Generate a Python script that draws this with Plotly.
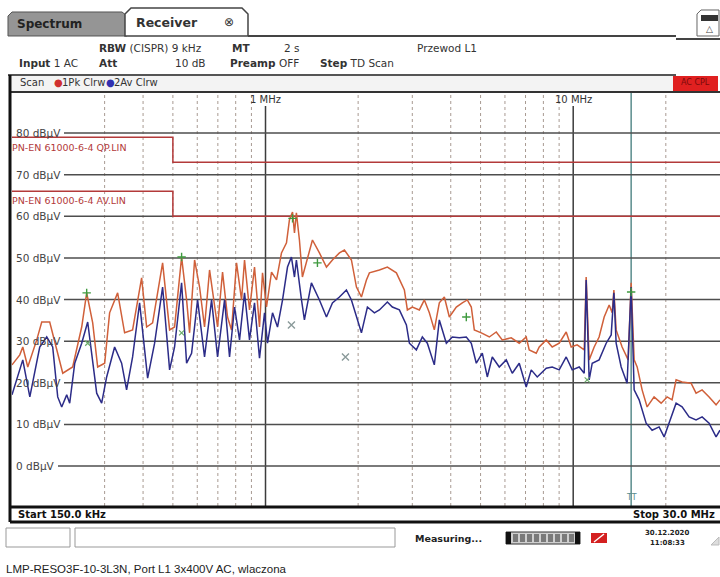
import math
import plotly.graph_objects as go

# ------------------------------------------------------------------ data
pk_freq_mhz = [0.150, 0.159, 0.1626, 0.1688, 0.1805, 0.1874, 0.1989, 0.2096, 0.2193, 0.2362,
               0.2527, 0.2623, 0.2744, 0.2848, 0.3001, 0.3114, 0.3307, 0.3484, 0.3699, 0.3957,
               0.4108, 0.4296, 0.463, 0.4879, 0.5064, 0.5337, 0.554, 0.5666, 0.5882, 0.6105,
               0.6336, 0.6579, 0.683, 0.6985, 0.7251, 0.7526, 0.7755, 0.8051, 0.8358, 0.8548,
               0.8872, 0.9211, 0.9561, 0.9779, 1.0075, 1.046, 1.086, 1.127, 1.170, 1.196,
               1.224, 1.242, 1.260, 1.289, 1.318, 1.369, 1.421, 1.497, 1.578, 1.650,
               1.739, 1.805, 1.902, 1.975, 2.050, 2.128, 2.176, 2.345, 2.489, 2.663,
               2.827, 2.891, 3.001, 3.162, 3.283, 3.408, 3.537, 3.672, 3.813, 3.958,
               4.170, 4.361, 4.527, 4.665, 4.771, 5.028, 5.338, 5.623, 5.881, 6.291,
               6.678, 7.036, 7.196, 7.584, 7.756, 8.173, 8.548, 9.006, 9.490, 9.852,
               10.30, 10.86, 11.02, 11.27, 11.70, 12.14, 12.61, 13.09, 13.39, 13.56,
               13.79, 14.42, 15.09, 15.43, 15.78, 16.14, 16.75, 17.39, 18.32, 19.31,
               20.20, 20.96, 21.60, 22.59, 24.16, 25.08, 26.24, 27.65, 29.13, 30.0]
pk_level_dbuv = [24.3, 26.7, 28.6, 23.8, 30.3, 34.6, 34.6, 27.9, 22.3, 23.8,
                 33.4, 41.6, 34.4, 23.8, 24.7, 36.8, 41.6, 32.0, 32.7, 45.2,
                 33.4, 34.4, 48.8, 32.7, 33.4, 50.2, 39.9, 32.0, 49.5, 43.0,
                 33.4, 47.1, 39.2, 33.4, 46.6, 35.8, 32.7, 48.8, 39.9, 49.5,
                 37.5, 47.8, 33.4, 46.4, 38.2, 46.6, 44.7, 51.2, 53.6, 59.1,
                 61.0, 56.0, 60.8, 54.3, 45.4, 50.2, 54.3, 51.2, 47.8, 49.5,
                 51.2, 51.9, 49.5, 43.0, 40.6, 44.7, 46.4, 47.1, 47.8, 46.4,
                 42.3, 37.5, 38.2, 37.5, 39.9, 36.8, 32.7, 39.2, 40.6, 35.8,
                 38.2, 39.2, 39.9, 38.2, 32.7, 32.0, 31.0, 32.2, 30.3, 30.8,
                 29.5, 31.0, 27.9, 27.1, 28.6, 30.3, 28.6, 29.5, 32.2, 28.6,
                 29.1, 27.9, 45.4, 25.5, 28.6, 31.0, 35.8, 38.7, 36.8, 42.3,
                 32.7, 28.6, 25.5, 44.0, 25.5, 23.8, 18.3, 14.2, 16.6, 15.1,
                 16.6, 15.9, 20.7, 20.2, 19.9, 17.5, 18.3, 16.6, 14.7, 15.9]

av_freq_mhz = [0.150, 0.1626, 0.1714, 0.1846, 0.1945, 0.2034, 0.2112, 0.2176, 0.2259, 0.2310,
               0.2399, 0.2527, 0.2643, 0.2827, 0.2934, 0.3046, 0.3233, 0.3407, 0.3536, 0.3699,
               0.3898, 0.4139, 0.4361, 0.4630, 0.4879, 0.5064, 0.5337, 0.5540, 0.5751, 0.6015,
               0.6336, 0.6679, 0.6985, 0.7360, 0.7640, 0.7932, 0.8234, 0.8548, 0.8872, 0.9211,
               0.9561, 0.9926, 1.015, 1.054, 1.094, 1.136, 1.179, 1.214, 1.242, 1.260,
               1.309, 1.338, 1.410, 1.497, 1.578, 1.650, 1.739, 1.832, 1.902, 1.975,
               2.050, 2.144, 2.259, 2.345, 2.489, 2.584, 2.723, 2.870, 2.935, 3.092,
               3.234, 3.357, 3.537, 3.672, 3.870, 4.047, 4.264, 4.494, 4.665, 4.843,
               5.065, 5.258, 5.458, 5.751, 6.060, 6.338, 6.678, 7.036, 7.305, 7.641,
               8.173, 8.548, 9.006, 9.490, 9.926, 10.46, 10.86, 11.02, 11.27, 11.53,
               12.14, 12.80, 13.29, 13.56, 13.79, 14.32, 14.97, 15.43, 15.78, 16.38,
               17.26, 18.05, 19.02, 19.75, 20.50, 20.96, 21.60, 22.59, 23.81, 25.08,
               26.24, 27.65, 29.13, 30.0]
av_level_dbuv = [17.1, 25.5, 16.6, 28.6, 31.0, 28.6, 16.6, 14.2, 17.1, 15.1,
                 24.7, 29.5, 34.6, 17.5, 15.1, 21.4, 28.6, 24.7, 18.3, 26.2,
                 39.2, 21.1, 29.5, 43.0, 23.1, 28.6, 44.0, 24.7, 27.1, 39.9,
                 26.2, 39.9, 26.2, 39.9, 26.2, 38.2, 30.3, 41.6, 30.3, 39.2,
                 25.9, 36.8, 29.5, 36.8, 33.4, 39.9, 47.8, 50.2, 45.4, 49.5,
                 39.9, 35.1, 44.0, 39.9, 35.8, 39.2, 40.6, 42.3, 39.9, 35.8,
                 32.0, 38.2, 36.8, 37.5, 39.4, 38.2, 37.5, 33.9, 29.5, 27.9,
                 31.0, 29.5, 24.3, 35.1, 29.5, 31.0, 30.8, 31.0, 29.5, 24.7,
                 27.1, 21.4, 26.2, 23.8, 25.5, 22.3, 24.7, 19.0, 23.1, 21.4,
                 23.5, 23.8, 23.1, 26.2, 23.1, 23.8, 22.3, 44.7, 20.7, 24.7,
                 25.5, 29.5, 31.5, 41.6, 29.5, 23.8, 19.9, 43.0, 18.3, 15.9,
                 10.3, 8.6, 9.4, 7.0, 10.3, 12.7, 15.1, 14.2, 11.8, 11.1,
                 11.8, 10.3, 7.0, 8.6]

qp_limit_freq = [0.15, 0.5, 30.0]
qp_limit_level = [79, 73, 73]
av_limit_freq = [0.15, 0.5, 30.0]
av_limit_level = [66, 60, 60]

level_ticks = [80, 70, 60, 50, 40, 30, 20, 10, 0]
level_tick_labels = ["80 dB\u00b5V", "70 dB\u00b5V", "60 dB\u00b5V", "50 dB\u00b5V", "40 dB\u00b5V",
                     "30 dB\u00b5V", "20 dB\u00b5V", "10 dB\u00b5V", "0 dB\u00b5V"]
minor_freq_grid = [0.3, 0.4, 0.5, 0.6, 0.7, 0.8, 0.9, 2, 3, 4, 5, 6, 7, 8, 9, 20]
decade_freq = [1, 10]
decade_labels = ["1 MHz", "10 MHz"]

plus_marker_freq = [0.2623, 0.5337, 1.224, 1.475, 4.494, 15.43]
plus_marker_level = [41.6, 50.2, 59.5, 48.8, 35.8, 41.8]
cross_marker_freq = [1.214, 1.819]
cross_marker_level = [33.9, 26.2]
green_cross_freq = [0.2643, 0.5337, 11.1]
green_cross_level = [29.5, 32.0, 20.7]
marker_line_freq = 15.43

# ------------------------------------------------------------------ geometry helpers
L, T, W, H = 12, 92, 708, 414
FIG_W, FIG_H = 720, 577


def xp(x):
    return (x - L) / W


def yp(y):
    return (T + H - y) / H


PK_COLOR = "#d0603a"
AV_COLOR = "#2c2c88"
LIMIT_COLOR = "#b33a3a"
GRID_COLOR = "#4e4e4e"
DOT_COLOR = "#a89a92"
FONT = "DejaVu Sans"

fig = go.Figure()

# limit lines
fig.add_trace(go.Scatter(x=qp_limit_freq, y=qp_limit_level, mode="lines",
                         line=dict(color=LIMIT_COLOR, width=1.5, shape="hv"), hoverinfo="skip"))
fig.add_trace(go.Scatter(x=av_limit_freq, y=av_limit_level, mode="lines",
                         line=dict(color=LIMIT_COLOR, width=1.5, shape="hv"), hoverinfo="skip"))
# traces
fig.add_trace(go.Scatter(x=pk_freq_mhz, y=pk_level_dbuv, mode="lines", name="1Pk Clrw",
                         line=dict(color=PK_COLOR, width=1.5)))
fig.add_trace(go.Scatter(x=av_freq_mhz, y=av_level_dbuv, mode="lines", name="2Av Clrw",
                         line=dict(color=AV_COLOR, width=1.5)))
# markers
fig.add_trace(go.Scatter(x=plus_marker_freq, y=plus_marker_level, mode="markers",
                         marker=dict(symbol="cross-thin", size=6, line=dict(color="#3f9a3f", width=1.4))))
fig.add_trace(go.Scatter(x=cross_marker_freq, y=cross_marker_level, mode="markers",
                         marker=dict(symbol="x-thin", size=7, line=dict(color="#8a9a9a", width=1.4))))
fig.add_trace(go.Scatter(x=green_cross_freq, y=green_cross_level, mode="markers",
                         marker=dict(symbol="x-thin", size=5, line=dict(color="#6aaa6a", width=1.2))))

shapes = []
annotations = []

# vertical dotted grid
for f in minor_freq_grid:
    shapes.append(dict(type="line", xref="x", yref="paper", x0=f, x1=f, y0=0, y1=1,
                       line=dict(color=DOT_COLOR, width=1, dash="dot"), layer="below"))
# decade lines
for f, lab in zip(decade_freq, decade_labels):
    shapes.append(dict(type="line", xref="x", yref="paper", x0=f, x1=f, y0=0, y1=yp(106),
                       line=dict(color="#3c3c3c", width=1.5), layer="below"))
    annotations.append(dict(x=math.log10(f), xref="x", y=yp(100), yref="paper", text=lab,
                            showarrow=False, xanchor="center", yanchor="middle",
                            font=dict(family=FONT, size=10, color="#333")))
# marker line
shapes.append(dict(type="line", xref="x", yref="paper", x0=marker_line_freq, x1=marker_line_freq,
                   y0=0, y1=1, line=dict(color="#5a8c8c", width=1.5), layer="below"))
annotations.append(dict(x=math.log10(marker_line_freq), xref="x", y=yp(497), yref="paper", text="TT",
                        showarrow=False, xanchor="center", yanchor="middle",
                        font=dict(family=FONT, size=8, color="#5a8c8c")))

# horizontal grid with labels
for lv, lab in zip(level_ticks, level_tick_labels):
    start = 64 if lv != 0 else 58
    shapes.append(dict(type="line", xref="paper", yref="y", x0=xp(start), x1=1, y0=lv, y1=lv,
                       line=dict(color=GRID_COLOR, width=1.5), layer="below"))
    annotations.append(dict(x=xp(14), xref="paper", y=lv, yref="y", text=lab, showarrow=False,
                            xanchor="left", yanchor="middle",
                            font=dict(family=FONT, size=10.5, color="#444")))

# limit labels
annotations.append(dict(x=xp(10), xref="paper", y=yp(147), yref="paper",
                        text="PN-EN 61000-6-4 QP.LIN", showarrow=False, xanchor="left", yanchor="middle",
                        font=dict(family=FONT, size=9.5, color=LIMIT_COLOR)))
annotations.append(dict(x=xp(10), xref="paper", y=yp(200), yref="paper",
                        text="PN-EN 61000-6-4 AV.LIN", showarrow=False, xanchor="left", yanchor="middle",
                        font=dict(family=FONT, size=9.5, color=LIMIT_COLOR)))


def rect(x0, y0, x1, y1, fill=None, line_color=None, lw=1):
    d = dict(type="rect", xref="paper", yref="paper", x0=xp(x0), x1=xp(x1), y0=yp(y0), y1=yp(y1),
             line=dict(width=lw if line_color else 0, color=line_color or "rgba(0,0,0,0)"))
    if fill:
        d["fillcolor"] = fill
    shapes.append(d)


def hline(x0, x1, y, color, lw):
    shapes.append(dict(type="line", xref="paper", yref="paper", x0=xp(x0), x1=xp(x1), y0=yp(y), y1=yp(y),
                       line=dict(color=color, width=lw)))


def vline(x, y0, y1, color, lw):
    shapes.append(dict(type="line", xref="paper", yref="paper", x0=xp(x), x1=xp(x), y0=yp(y0), y1=yp(y1),
                       line=dict(color=color, width=lw)))


def path(points, fill=None, line_color="#444", lw=1, close=True):
    s = "M " + " L ".join("%.5f,%.5f" % (xp(x), yp(y)) for x, y in points)
    if close:
        s += " Z"
    d = dict(type="path", xref="paper", yref="paper", path=s,
             line=dict(color=line_color, width=lw))
    if fill:
        d["fillcolor"] = fill
    shapes.append(d)


def text(x, y, t, size=10, color="#333", anchor="left", bold=False, family=FONT):
    annotations.append(dict(x=xp(x), xref="paper", y=yp(y), yref="paper",
                            text=("<b>%s</b>" % t) if bold else t, showarrow=False,
                            xanchor=anchor, yanchor="middle",
                            font=dict(family=family, size=size, color=color)))


# tabs
path([(8, 36), (8, 16), (12, 12), (122, 12), (127, 16), (127, 36)], fill="#959595", line_color="#555", lw=1)
path([(125, 36), (125, 14), (131, 8), (242, 8), (248, 14), (248, 36)], fill="#ffffff", line_color="#444", lw=1.5)
text(15, 24, "Spectrum", size=12, color="#222", bold=True)
text(134, 23, "Receiver", size=12.5, color="#333", bold=True)
text(229, 22, "\u2297", size=12, color="#333", anchor="center")
hline(248, 676, 36, "#444", 2)
hline(676, 720, 39, "#444", 2)
# top-right icon
path([(697, 36), (697, 14), (701, 10), (719, 10), (719, 36)], fill="#ffffff", line_color="#666", lw=1)
rect(701, 15, 718, 21, fill="#333")
text(709, 29, "\u25b3", size=9, color="#444", anchor="center")

# header lines
text(97, 48, "<b>RBW</b> (CISPR) 9 kHz", size=10.5, color="#333")
text(230, 48, "<b>MT</b>", size=10.5, color="#333")
text(302, 48, "2 s", size=10.5, color="#333", anchor="right")
text(415, 48, "Przewod L1", size=10.5, color="#333")
text(17, 63, "<b>Input</b> 1 AC", size=10.5, color="#333")
text(97, 63, "<b>Att</b>", size=10.5, color="#333")
text(208, 63, "10 dB", size=10.5, color="#333", anchor="right")
text(228, 63, "<b>Preamp</b> OFF", size=10.5, color="#333")
text(318, 63, "<b>Step</b> TD Scan", size=10.5, color="#333")

# scan bar
hline(8, 676, 75, "#555", 2)
rect(12, 76, 673, 91, fill="#f3f3f3")
text(18, 83, "Scan", size=10, color="#333")
text(52, 83, "\u25cf", size=10, color="#d03030")
text(60, 83, "1Pk Clrw", size=10, color="#333")
text(104, 83, "\u25cf", size=10, color="#3030b0")
text(112, 83, "2Av Clrw", size=10, color="#333")
rect(673, 76, 718, 91, fill="#e02020")
text(695, 83, "AC CPL", size=8, color="#7a0a0a", anchor="center")

# frame
hline(10, 720, 92, "#333", 2)
vline(10, 75, 522, "#111", 3)
hline(10, 720, 507, "#111", 3)
hline(10, 720, 522, "#111", 3)
text(16, 514, "Start 150.0 kHz", size=10, color="#111", bold=True)
text(717, 514, "Stop 30.0 MHz", size=10, color="#111", bold=True, anchor="right")

# status bar
rect(6, 528, 70, 547, fill="#ffffff", line_color="#999", lw=1)
rect(75, 528, 395, 547, fill="#ffffff", line_color="#999", lw=1)
text(413, 538, "Measuring...", size=9.5, color="#222", bold=True)
rect(506, 532, 580, 544, fill="#cfcfcf", line_color="#333", lw=1)
rect(506, 532, 511, 544, fill="#111")
rect(575, 532, 580, 544, fill="#111")
for k in range(9):
    rect(513 + k * 7, 534, 518 + k * 7, 542, fill="#7a7a7a")
rect(591, 533, 607, 543, fill="#d42020")
shapes.append(dict(type="line", xref="paper", yref="paper", x0=xp(594), x1=xp(604), y0=yp(542), y1=yp(534),
                   line=dict(color="#ffffff", width=1.5)))
text(667, 533, "30.12.2020", size=7, color="#222", bold=True, anchor="center")
text(667, 543, "11:08:33", size=7, color="#222", bold=True, anchor="center")
path([(711, 545), (719, 537), (719, 545)], fill="#dddddd", line_color="#bbb", lw=1)

# caption
text(4, 569, "LMP-RESO3F-10-3L3N, Port L1 3x400V AC, wlaczona", size=11.5, color="#222",
     family="Liberation Sans Narrow, Liberation Sans, Arial")

fig.update_layout(
    width=FIG_W, height=FIG_H,
    margin=dict(l=L, r=FIG_W - L - W, t=T, b=FIG_H - T - H, pad=0),
    paper_bgcolor="#ffffff", plot_bgcolor="#ffffff",
    showlegend=False,
    font=dict(family=FONT, size=10, color="#333"),
    xaxis=dict(type="log", range=[math.log10(0.15), math.log10(30.0)], showgrid=False,
               zeroline=False, showticklabels=False, ticks="", showline=False, fixedrange=True),
    yaxis=dict(range=[-9.6, 89.85], showgrid=False, zeroline=False, showticklabels=False,
               ticks="", showline=False, fixedrange=True),
    shapes=shapes,
    annotations=annotations,
)

fig.write_html(
    "out.html",
    config={"displayModeBar": False},
    post_script="document.body.style.margin='0';document.body.style.padding='0';"
                "document.body.style.overflow='hidden';",
)
